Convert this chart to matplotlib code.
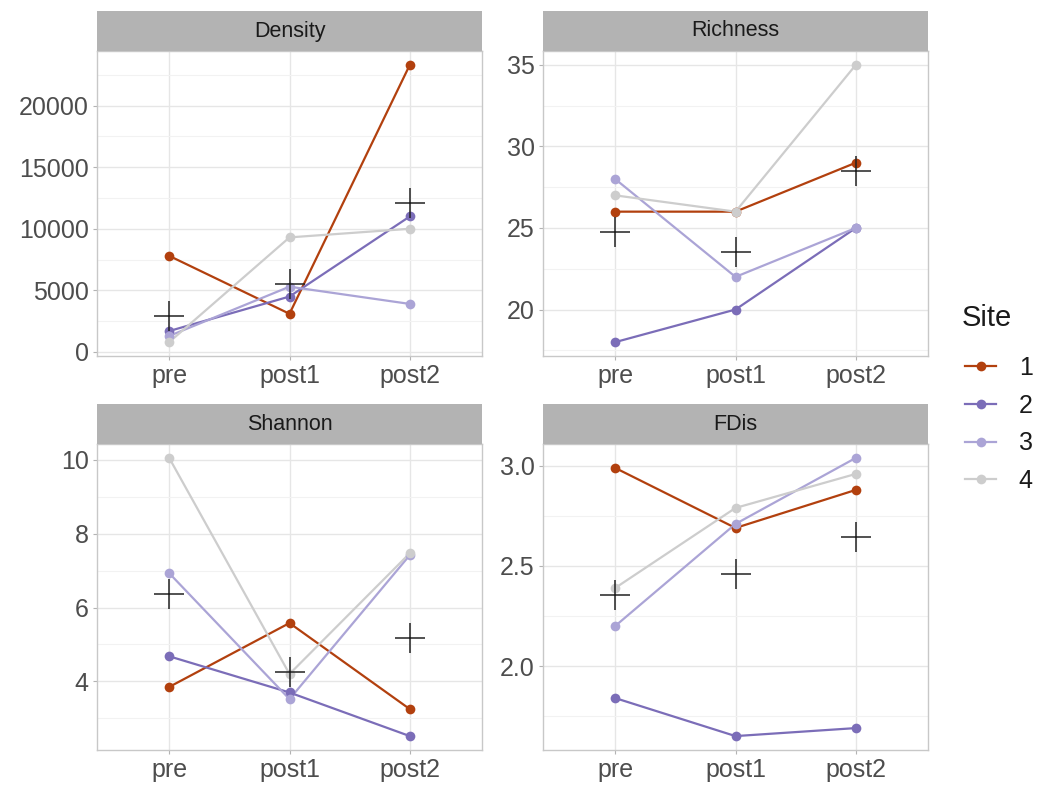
import numpy as np
import matplotlib
matplotlib.use("Agg")
import matplotlib.pyplot as plt
from matplotlib.lines import Line2D

plt.rcParams["font.family"] = ["Liberation Sans", "DejaVu Sans"]

times = ["pre", "post1", "post2"]
sites = ["1", "2", "3", "4"]
site_colors = ["#B2400E", "#7B6DB8", "#ABA4D6", "#CDCDCD"]

density = [
    [7800, 3100, 23300],
    [1700, 4500, 11000],
    [1300, 5300, 3900],
    [800, 9300, 10000],
]
richness = [
    [26, 26, 29],
    [18, 20, 25],
    [28, 22, 25],
    [27, 26, 35],
]
shannon = [
    [3.85, 5.58, 3.25],
    [4.68, 3.70, 2.52],
    [6.93, 3.52, 7.42],
    [10.05, 4.20, 7.47],
]
fdis = [
    [2.99, 2.69, 2.88],
    [1.84, 1.65, 1.69],
    [2.20, 2.71, 3.04],
    [2.39, 2.79, 2.96],
]

panels = [
    ("Density", density, [0, 5000, 10000, 15000, 20000], "{:.0f}"),
    ("Richness", richness, [20, 25, 30, 35], "{:.0f}"),
    ("Shannon", shannon, [4, 6, 8, 10], "{:.0f}"),
    ("FDis", fdis, [2.0, 2.5, 3.0], "{:.1f}"),
]

W, H = 1040, 789
fig = plt.figure(figsize=(W / 100, H / 100), dpi=100)

# plot areas in pixel coords: (left, top, right, bottom)
boxes = [(97, 51, 482, 356), (543, 51, 928, 356),
         (97, 444, 482, 750), (543, 444, 928, 750)]
strip_h = 40

x = np.arange(len(times))
for (title, data, ticks, fmt), (l, t, r, b) in zip(panels, boxes):
    ax = fig.add_axes([l / W, 1 - b / H, (r - l) / W, (b - t) / H])
    arr = np.array(data, dtype=float)
    for vals, c in zip(arr, site_colors):
        ax.plot(x, vals, color=c, lw=1.6, zorder=3)
    for vals, c in zip(arr, site_colors):
        ax.plot(x, vals, "o", color=c, ms=7, mec="none", zorder=4)
    means = arr.mean(axis=0)
    ax.plot(x, means, "+", color="#222222", ms=21, mew=1.1, zorder=5)

    lo, hi = arr.min(), arr.max()
    pad = (hi - lo) * 0.05
    ax.set_ylim(lo - pad, hi + pad)
    ax.set_xlim(-0.6, 2.6)
    ax.set_xticks(x)
    ax.set_xticklabels(times)
    ax.set_yticks(ticks)
    ax.set_yticklabels([fmt.format(v) for v in ticks])
    step = ticks[1] - ticks[0]
    minors = np.arange(ticks[0] - step / 2, hi + pad, step)
    ax.set_yticks([m for m in minors if lo - pad < m < hi + pad], minor=True)
    ax.grid(True, which="major", color="#E6E6E6", lw=1.0, zorder=0)
    ax.grid(True, which="minor", axis="y", color="#F2F2F2", lw=0.8, zorder=0)
    ax.set_axisbelow(True)
    for s in ax.spines.values():
        s.set_color("#C8C8C8")
        s.set_linewidth(1.0)
    ax.tick_params(axis="both", which="major", labelsize=18, colors="#B3B3B3",
                   labelcolor="#4D4D4D", length=3, width=0.8, pad=3)
    ax.tick_params(axis="y", which="minor", length=0)

    sax = fig.add_axes([l / W, 1 - t / H, (r - l) / W, strip_h / H])
    sax.set_facecolor("#B3B3B3")
    sax.set_xticks([])
    sax.set_yticks([])
    for s in sax.spines.values():
        s.set_visible(False)
    sax.text(0.5, 0.5, title, ha="center", va="center", fontsize=15.5,
             color="#1A1A1A", transform=sax.transAxes)

# legend: title as separate text so the gap to the keys matches
fig.text(962 / W, 1 - 318 / H, "Site", ha="left", va="center",
         fontsize=21, color="#1A1A1A")
handles = [Line2D([0], [0], color=c, lw=1.6, marker="o", ms=7, mec="none")
           for c in site_colors]
leg = fig.legend(handles, sites, loc="upper left",
                 bbox_to_anchor=(965 / W, 1 - 356 / H), frameon=False,
                 borderpad=0, borderaxespad=0,
                 fontsize=18, handlelength=1.25,
                 labelspacing=0.55, handletextpad=0.9)
for txt in leg.get_texts():
    txt.set_color("#1A1A1A")

fig.savefig("out.png", dpi=100)
